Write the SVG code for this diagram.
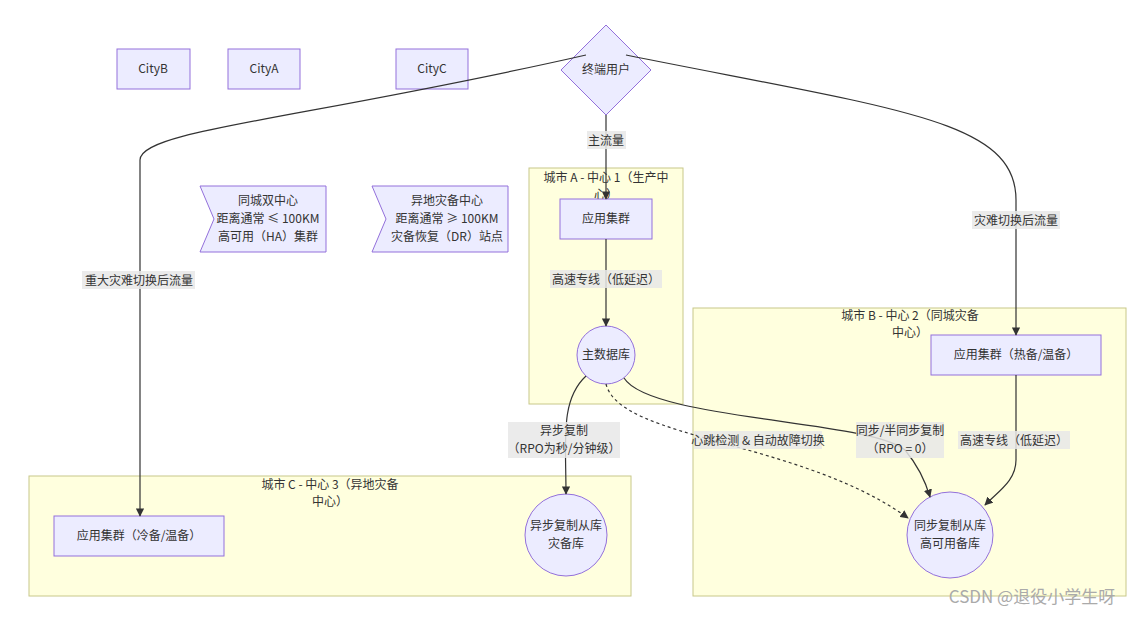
<svg xmlns="http://www.w3.org/2000/svg" width="1143" height="618" viewBox="0 0 1143 618">
<defs>
<marker id="ar" viewBox="0 0 10 10" refX="9" refY="5" markerWidth="7" markerHeight="7" orient="auto"><path d="M0,0 L10,5 L0,10 z" fill="#333"/></marker>
<style>
text{font-family:"Noto Sans CJK SC","Liberation Sans",sans-serif;font-size:12px;fill:#333;text-anchor:middle}
.n{fill:#ECECFF;stroke:#9370DB;stroke-width:1}
.c{fill:#FFFFDE;stroke:#C8C88A;stroke-width:1}
.e{fill:none;stroke:#333;stroke-width:1.2}
.lb{fill:#E8E8E8;opacity:0.85}
</style>
</defs>
<rect width="1143" height="618" fill="#fff"/>
<g id="clusterA"><rect class="c" x="529" y="168" width="154" height="236"/><text x="606" y="182">城市 A - 中心 1（生产中</text><text x="606" y="199">心）</text></g>
<g id="clusterB"><rect class="c" x="693" y="308" width="433" height="288"/><text x="910" y="320">城市 B - 中心 2（同城灾备</text><text x="910" y="337">中心）</text></g>
<g id="clusterC"><rect class="c" x="29" y="476" width="602" height="120"/><text x="330" y="489">城市 C - 中心 3（异地灾备</text><text x="330" y="506">中心）</text></g>
<g id="cityB"><rect class="n" x="117" y="49" width="73" height="40"/><text x="153" y="73">CityB</text></g>
<g id="cityA"><rect class="n" x="228" y="49" width="72" height="40"/><text x="264" y="73">CityA</text></g>
<g id="cityC"><rect class="n" x="396" y="49" width="72" height="40"/><text x="432" y="73">CityC</text></g>
<g id="user"><polygon class="n" points="606,25 651,70 606,115 561,70"/><text x="606" y="74">终端用户</text></g>
<g id="note1"><polygon class="n" points="200,186 326,186 326,252 200,252 214,219"/><text x="268" y="205">同城双中心</text><text x="268" y="223">距离通常 ≤ 100KM</text><text x="268" y="241">高可用（HA）集群</text></g>
<g id="note2"><polygon class="n" points="372,186 508,186 508,252 372,252 386,219"/><text x="447" y="205">异地灾备中心</text><text x="447" y="223">距离通常 ≥ 100KM</text><text x="447" y="241">灾备恢复（DR）站点</text></g>
<g id="appA"><rect class="n" x="560" y="199" width="92" height="40"/><text x="606" y="223">应用集群</text></g>
<g id="dbA"><circle class="n" cx="606" cy="355" r="29"/><text x="606" y="359">主数据库</text></g>
<g id="appB"><rect class="n" x="931" y="335" width="170" height="40"/><text x="1016" y="359">应用集群（热备/温备）</text></g>
<g id="dbB"><circle class="n" cx="950" cy="535" r="43"/><text x="950" y="530">同步复制从库</text><text x="950" y="548">高可用备库</text></g>
<g id="appC"><rect class="n" x="54" y="516" width="170" height="40"/><text x="139" y="540">应用集群（冷备/温备）</text></g>
<g id="dbC"><circle class="n" cx="566" cy="535" r="41"/><text x="566" y="530">异步复制从库</text><text x="566" y="548">灾备库</text></g>
<g id="edges">
<path class="e" d="M606,115 V199" marker-end="url(#ar)"/>
<path class="e" d="M586,55 C300,120 140,130 140,160 V516" marker-end="url(#ar)"/>
<path class="e" d="M626,55 C900,110 1016,120 1016,200 V335" marker-end="url(#ar)"/>
<path class="e" d="M606,239 V326" marker-end="url(#ar)"/>
<path class="e" d="M586,376 C560,400 566,440 566,494" marker-end="url(#ar)"/>
<path class="e" d="M624,378 C650,420 870,420 905,450 C915,462 925,480 930,497" marker-end="url(#ar)"/>
<path class="e" d="M606,384 C620,440 800,440 908,518" stroke-dasharray="3,3" marker-end="url(#ar)"/>
<path class="e" d="M1016,375 V460 C1016,480 1000,490 985,505" marker-end="url(#ar)"/>
<rect class="lb" x="587" y="131" width="39" height="18"/><text x="606" y="145">主流量</text>
<rect class="lb" x="82" y="271" width="113" height="18"/><text x="139" y="285">重大灾难切换后流量</text>
<rect class="lb" x="972" y="211" width="88" height="18"/><text x="1016" y="225">灾难切换后流量</text>
<rect class="lb" x="550" y="270" width="112" height="18"/><text x="606" y="284">高速专线（低延迟）</text>
<rect class="lb" x="508" y="422" width="112" height="36"/><text x="564" y="435">异步复制</text><text x="564" y="453">（RPO为秒/分钟级）</text>
<rect class="lb" x="694" y="431" width="128" height="18"/><text x="758" y="445">心跳检测 &amp; 自动故障切换</text>
<rect class="lb" x="856" y="422" width="88" height="36"/><text x="900" y="435">同步/半同步复制</text><text x="900" y="453">（RPO = 0）</text>
<rect class="lb" x="958" y="431" width="112" height="18"/><text x="1014" y="445">高速专线（低延迟）</text>
</g>
<text x="1032" y="603" style="font-size:17px;fill:#aaa">CSDN @退役小学生呀</text>
</svg>
